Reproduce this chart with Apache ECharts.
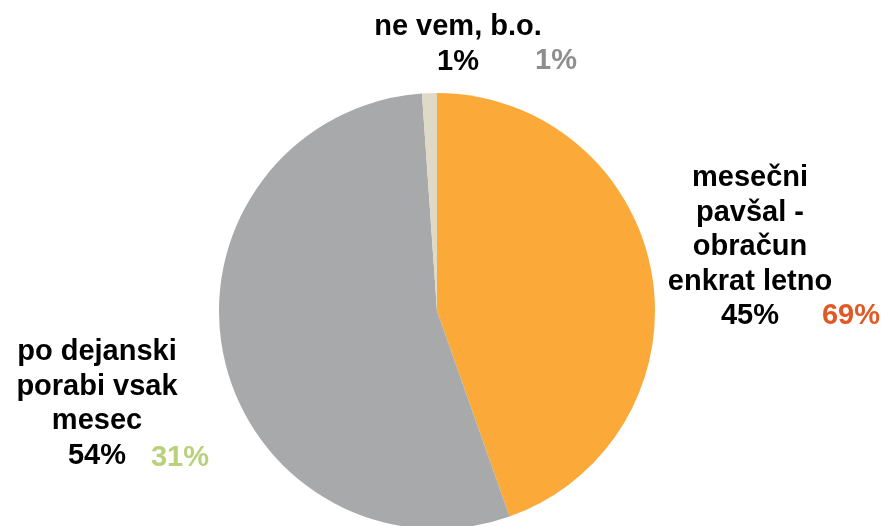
<!DOCTYPE html>
<html>
<head>
<meta charset="utf-8">
<title>pie</title>
<script src="https://cdn.jsdelivr.net/npm/echarts@6/dist/echarts.min.js"></script>
<style>
	* { margin: 0; padding: 0; border: 0; }
	html, body { width: 884px; height: 526px; background: #fff; }
	#main { width: 884px; height: 526px; }
</style>
</head>
<body>
<div id="main"></div>
<script type="text/javascript">
	// podatki
	var categories = ['mesečni\npavšal -\nobračun\nenkrat letno', 'po dejanski\nporabi vsak\nmesec', 'ne vem, b.o.'];
	var values = [44.6, 54.3, 1.1];
	var compareValues = [69, 31, 1];
	var sliceColors = ['#FBAA3A', '#A8A9AB', '#DEDAC6'];
	var compareColors = ['#E05A26', '#B9D17A', '#8E8E8E'];

	// kje stojijo napisi (x sredina, y vrh bloka)
	var labelPos = [[750, 161], [97, 335], [458, 10]];
	var comparePos = [[851, 316], [180, 458], [556, 61]];

	var myChart = echarts.init(document.getElementById('main'));

	var pieData = [];
	for (var i = 0; i < values.length; i++) {
		pieData.push({ name: categories[i], value: values[i], itemStyle: { color: sliceColors[i] } });
	}

	var texts = [];
	for (var i = 0; i < compareValues.length; i++) {
		texts.push({
			type: 'text',
			x: comparePos[i][0],
			y: comparePos[i][1],
			style: {
				text: compareValues[i] + '%',
				fill: compareColors[i],
				font: 'bold 29px "Liberation Sans", Arial, sans-serif',
				align: 'center',
				verticalAlign: 'middle'
			}
		});
	}

	var option = {
		animation: false,
		graphic: texts,
		series: [{
			type: 'pie',
			center: [437, 311],
			radius: [0, 218],
			startAngle: 90,
			clockwise: true,
			silent: true,
			labelLine: { show: false },
			label: {
				show: true,
				color: '#000',
				fontFamily: '"Liberation Sans", Arial, sans-serif',
				fontWeight: 'bold',
				fontSize: 29,
				lineHeight: 34.5,
				align: 'center',
				formatter: function (p) {
					return p.name + '\n' + Math.round(p.value) + '%';
				}
			},
			labelLayout: function (params) {
				var pos = labelPos[params.dataIndex];
				return { x: pos[0], y: pos[1], align: 'center', verticalAlign: 'top' };
			},
			data: pieData
		}]
	};

	myChart.setOption(option);
</script>
</body>
</html>
